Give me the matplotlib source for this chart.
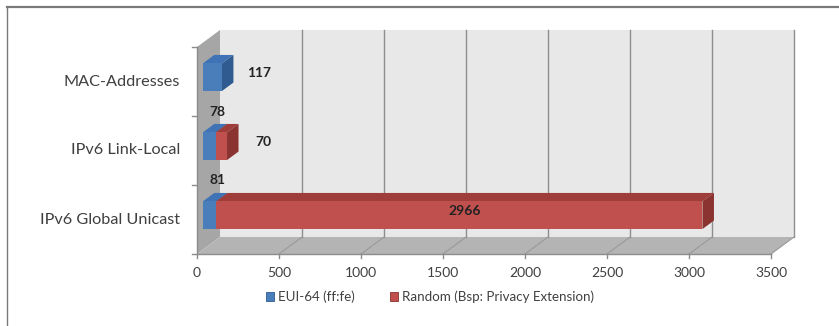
import numpy as np
import matplotlib.pyplot as plt
from matplotlib.patches import Polygon, Patch
from matplotlib.lines import Line2D
from matplotlib import transforms

plt.rcParams['font.family'] = ['Lato', 'DejaVu Sans']

# ~~~~~~~~~~~~~~~~ data ~~~~~~~~~~~~~~~~
categories = ['IPv6 Global Unicast', 'IPv6 Link-Local', 'MAC-Addresses']
eui64 = [81, 78, 117]
random_ext = [2966, 70, 0]
series_names = ['EUI-64 (ff:fe)', 'Random (Bsp: Privacy Extension)']
xticks = [0, 500, 1000, 1500, 2000, 2500, 3000, 3500]

# colours: front, top, side
blue = ('#4a7ebb', '#3f73b5', '#2f5b91')
red = ('#c0504d', '#9e3d3a', '#8a3330')

W, H = 839, 326
fig = plt.figure(figsize=(W / 100, H / 100), dpi=100)
ax = fig.add_axes([197 / W, (H - 254) / H, 574 / W, 207 / H])
ax.set_xlim(0, 3500)
ax.set_ylim(-0.5, 2.5)
ax.axis('off')

# depth of the 3d box, in pixels -> data units
ddx = 23 * 3500 / 574
ddy = 17 * 3 / 207
ux = 3500 / 574   # data per pixel
uy = 3 / 207

def pt(x, y, d):
    return (x + d * ddx, y + d * ddy)

def poly(pts, color, z, ec='none'):
    ax.add_patch(Polygon(pts, closed=True, facecolor=color, edgecolor=ec,
                         lw=0.6, zorder=z, clip_on=False))

y0, y1 = -0.5, 2.5
x1 = xticks[-1]
# walls
poly([pt(0, y0, 0), pt(0, y1, 0), pt(0, y1, 1), pt(0, y0, 1)], '#a6a6a6', 1)
poly([pt(0, y0, 0), pt(x1, y0, 0), pt(x1, y0, 1), pt(0, y0, 1)], '#b4b4b4', 1)
poly([pt(0, y0, 1), pt(x1, y0, 1), pt(x1, y1, 1), pt(0, y1, 1)], '#e8e8e8', 1)

grid_c = '#8e8e8e'
for v in xticks[1:]:
    a, b = pt(v, y0, 1), pt(v, y1, 1)
    ax.plot([a[0], b[0]], [a[1], b[1]], color=grid_c, lw=1, zorder=2, clip_on=False)
    a, b = pt(v, y0, 0), pt(v, y0, 1)
    ax.plot([a[0], b[0]], [a[1], b[1]], color='#999999', lw=0.8, zorder=2, clip_on=False)

# axis lines and ticks
ax.plot([0, x1], [y0, y0], color='#8c8c8c', lw=1, zorder=3, clip_on=False)
ax.plot([0, 0], [y0, y1], color='#8c8c8c', lw=1, zorder=3, clip_on=False)
for v in xticks:
    ax.plot([v, v], [y0, y0 - 4 * uy], color='#8c8c8c', lw=1, zorder=3, clip_on=False)
for yb in np.arange(y0, y1 + 0.01, 1.0):
    ax.plot([0, -5 * ux], [yb, yb], color='#8c8c8c', lw=1, zorder=3, clip_on=False)

below = transforms.offset_copy(ax.transData, fig, x=0, y=-19, units='dots')
for v in xticks:
    ax.text(v, y0, str(v), transform=below, ha='center', va='center',
            fontsize=10, color='#404040')
left = transforms.offset_copy(ax.transData, fig, x=-17, y=0, units='dots')
for i, c in enumerate(categories):
    ax.text(0, i, c, transform=left, ha='right', va='center',
            fontsize=11.7, color='#404040')

# bars
bh = 0.4
f0, f1 = 0.25, 0.75
z = 5
for i in range(len(categories)):
    start = 0
    segs = [(eui64[i], blue), (random_ext[i], red)]
    segs = [s for s in segs if s[0] > 0]
    for k, (val, cols) in enumerate(segs):
        xa, xb = start, start + val
        ya, yb = i - bh / 2, i + bh / 2
        front = [pt(xa, ya, f0), pt(xb, ya, f0), pt(xb, yb, f0), pt(xa, yb, f0)]
        top = [pt(xa, yb, f0), pt(xb, yb, f0), pt(xb, yb, f1), pt(xa, yb, f1)]
        side = [pt(xb, ya, f0), pt(xb, ya, f1), pt(xb, yb, f1), pt(xb, yb, f0)]
        poly(top, cols[1], z)
        poly(side, cols[2], z)
        poly(front, cols[0], z + 0.5)
        z += 1
        # data labels
        last = k == len(segs) - 1
        if val > 500:
            cx, cy = pt((xa + xb) / 2, i, 0.5)
            ax.text(cx, cy, str(val), ha='center', va='center', fontsize=10,
                    fontweight='bold', color='#222222', zorder=20)
        elif last:
            ex, ey = pt(xb, i, 0.5)
            ax.text(ex + 31 * ux, ey, str(val), ha='center', va='center',
                    fontsize=10, fontweight='bold', color='#222222', zorder=20)
        else:
            ex, ey = pt(xa + val / 2, i + 0.5, 0.5)
            ax.text(ex + 2 * ux, ey - 4 * uy, str(val), ha='center', va='center',
                    fontsize=10, fontweight='bold', color='#222222', zorder=20)
        start = xb

# legend
handles = [Patch(facecolor=blue[0], edgecolor=blue[2], lw=0.6),
           Patch(facecolor=red[0], edgecolor=red[2], lw=0.6)]
fig.legend(handles, series_names, loc='center', bbox_to_anchor=(430 / W, 1 - 297 / H),
           ncol=2, frameon=False, fontsize=9.6, handlelength=0.65, handleheight=0.65,
           handletextpad=0.3, columnspacing=2.6, labelcolor='#404040')

# outer frame (cropped)
fig.add_artist(Line2D([7 / W, 1], [1 - 7 / H, 1 - 7 / H], color='#7a7a7a', lw=1.6))
fig.add_artist(Line2D([7 / W, 7 / W], [0, 1 - 7 / H], color='#7a7a7a', lw=1.0))

fig.savefig('out.png', dpi=100, facecolor='white')
